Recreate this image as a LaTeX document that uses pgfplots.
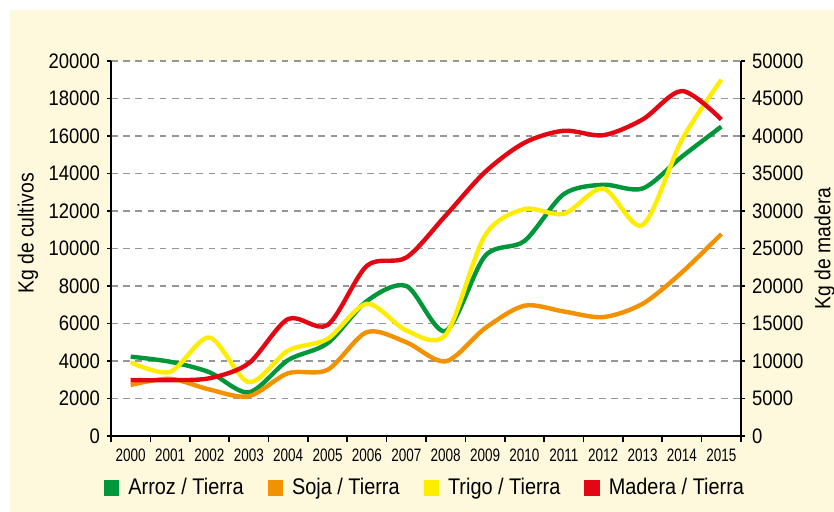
\documentclass[border=0pt]{standalone}
\usepackage{fontspec}
\setmainfont{Liberation Sans}[FakeStretch=0.88]
\newfontfamily\xtickfont{Liberation Sans}[FakeStretch=0.75]
\usepackage{pgfplots}
\pgfplotsset{compat=1.18}
\definecolor{cream}{RGB}{254,248,220}
\definecolor{cgreen}{RGB}{0,150,57}
\definecolor{corange}{RGB}{243,146,0}
\definecolor{cyellow}{RGB}{255,237,0}
\definecolor{cred}{RGB}{227,6,19}
\definecolor{cgrid}{RGB}{150,150,150}
\begin{document}
\begin{tikzpicture}
\useasboundingbox (-55.5pt,-38pt) rectangle (361.5pt,218pt);
\fill[white] (-55.5pt,-38pt) rectangle (361.5pt,218pt);
\fill[cream] (-50.5pt,-38pt) rectangle (361.5pt,213pt);
\pgfplotsset{
  common/.style={
    scale only axis, width=315pt, height=187.5pt,
    at={(0pt,0pt)}, anchor=south west,
    xmin=-0.5, xmax=15.5,
    tick align=outside,
    major tick length=2pt,
    axis line style={line width=1pt, black},
    every tick/.style={black, line width=0.8pt},
    scaled y ticks=false,
    /pgf/number format/assume math mode=true,
    /pgf/number format/set thousands separator={},
    /pgf/number format/fixed,
    yticklabel style={font=\fontsize{10.5pt}{12pt}\selectfont},
  },
  serie/.style={line width=2.2pt, smooth, mark=none},
}
\begin{axis}[common,
  axis background/.style={fill=white},
  axis x line*=bottom, axis y line*=left,
  ymin=0, ymax=20000,
  ytick={0,2000,...,20000},
  xtick={0,...,15},
  xticklabels={2000,2001,2002,2003,2004,2005,2006,2007,2008,2009,2010,2011,2012,2013,2014,2015},
  xticklabel style={font=\xtickfont\fontsize{9pt}{10pt}\selectfont, yshift=-1pt},
  major x tick style={draw=none},
  minor xtick={-0.5,0.5,...,15.5},
  minor tick length=2.8pt,
  minor x tick style={black, line width=0.8pt},
  ymajorgrids,
  major grid style={cgrid, line width=0.8pt, dash pattern=on 3.3pt off 2.8pt},
  ylabel={Kg de cultivos},
  ylabel style={font=\fontsize{11pt}{13pt}\selectfont, at={(axis description cs:-0.132,0.54)}, anchor=center, rotate=0},
  legend columns=4,
  legend style={draw=none, fill=none, at={(axis description cs:0.5,-0.139)}, anchor=center,
    font=\fontsize{11.3pt}{13pt}\selectfont,
    /tikz/every even column/.append style={column sep=10pt},
    /tikz/every odd column/.append style={column sep=2.5pt}},
  legend image code/.code={\fill[#1] (0pt,-2.75pt) rectangle (5.5pt,2.75pt);},
]
\addplot[serie, cgreen] coordinates {
(0,4230) (1,3960) (2,3400) (3,2330) (4,4050) (5,4950) (6,7200) (7,8000)
(8,5600) (9,9600) (10,10400) (11,12900) (12,13400) (13,13200) (14,14900) (15,16500)};
\addlegendentry{Arroz / Tierra}
\addplot[serie, corange] coordinates {
(0,2720) (1,3050) (2,2480) (3,2120) (4,3350) (5,3530) (6,5540) (7,5000)
(8,3980) (9,5750) (10,6950) (11,6640) (12,6340) (13,7050) (14,8730) (15,10770)};
\addlegendentry{Soja / Tierra}
\addplot[serie, cyellow] coordinates {
(0,3930) (1,3420) (2,5250) (3,2870) (4,4560) (5,5180) (6,7050) (7,5630)
(8,5400) (9,10700) (10,12100) (11,11850) (12,13200) (13,11250) (14,15800) (15,19000)};
\addlegendentry{Trigo / Tierra}
\addlegendimage{serie, cred}
\addlegendentry{Madera / Tierra}
\end{axis}
\begin{axis}[common,
  axis x line=none, axis y line*=right,
  ymin=0, ymax=50000,
  ytick={0,5000,...,50000},
  ylabel={Kg de madera},
  ylabel style={font=\fontsize{11pt}{13pt}\selectfont, at={(axis description cs:1.133,0.5)}, anchor=center, rotate=0},
]
\addplot[serie, cred] coordinates {
(0,7450) (1,7450) (2,7700) (3,9700) (4,15600) (5,14800) (6,22700) (7,23800)
(8,29400) (9,35200) (10,39100) (11,40700) (12,40100) (13,42200) (14,46000) (15,42200)};
\end{axis}
\end{tikzpicture}
\end{document}
